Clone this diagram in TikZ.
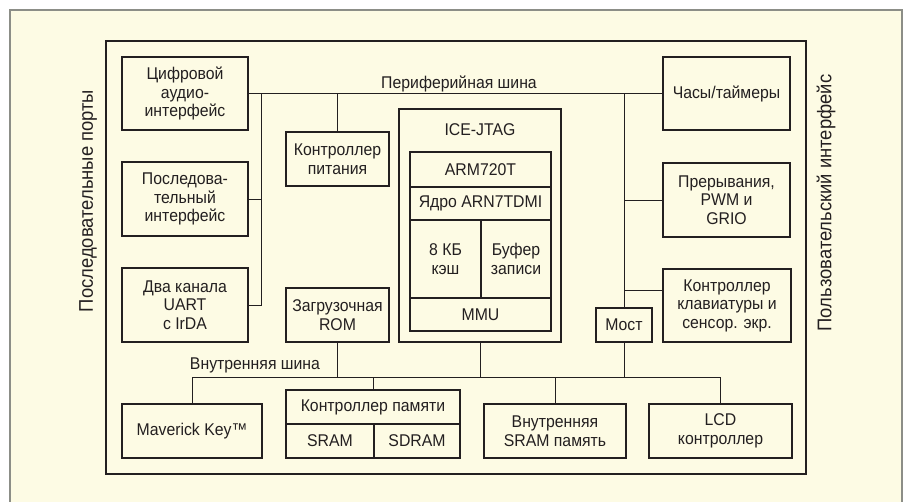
\documentclass[tikz,border=0pt]{standalone}
\usepackage{fontspec}
\setmainfont{Liberation Sans}[FakeStretch=0.93]
\usetikzlibrary{positioning}
\definecolor{paper}{RGB}{253,251,228}
\definecolor{ink}{RGB}{35,31,32}
\definecolor{edge}{RGB}{140,142,135}

\tikzset{
  blk/.style={draw=ink, line width=1.1pt, rectangle, inner sep=0pt, align=center, text=ink},
  bus/.style={draw=ink, line width=0.9pt},
  lbl/.style={text=ink, inner sep=0pt},
  side/.style={lbl, rotate=90, font=\fontsize{19.8}{22}\selectfont}
}

\begin{document}
\begin{tikzpicture}[x=1pt,y=-1pt,font=\fontsize{17}{18.5}\selectfont]
    \useasboundingbox (0,0) rectangle (905,502);
    \fill[white] (0,0) rectangle (905,502);
    \fill[paper] (10,10) rectangle (902,502);
    \draw[edge, line width=1.5pt] (10,505) -- (10,10) -- (902,10) -- (902,505);
    \draw[ink, line width=2pt] (106,41) rectangle (806,474);

    % left column
    \node[blk, minimum width=126pt, minimum height=73pt] (audio) at (185,93.5) {Цифровой\\аудио-\\интерфейс};
    \node[blk, minimum width=126pt, minimum height=74pt] (serial) at (185,199) {Последова-\\тельный\\интерфейс};
    \node[blk, minimum width=126pt, minimum height=74pt] (uart) at (185,305) {Два канала\\UART\\c IrDA};
    \node[blk, minimum width=103pt, minimum height=54pt] (power) at (337.5,159) {Контроллер\\питания};
    \node[blk, minimum width=103pt, minimum height=54pt] (rom) at (337.5,315) {Загрузочная\\ROM};

    % core
    \node[blk, line width=1.4pt, minimum width=162pt, minimum height=233pt] (jtag) at (480,225.5) {};
    \node[lbl, anchor=base] (jtagl) at (480,136) {ICE-JTAG};
    \node[blk, minimum width=141pt, minimum height=35pt] (arm) at (480.5,169.5) {ARM720T};
    \node[blk, minimum width=141pt, minimum height=33pt] (core) at (480.5,203.5) {Ядро ARN7TDMI};
    \node[blk, minimum width=71pt, minimum height=78pt] (cache) at (445.5,259) {8 КБ\\кэш};
    \node[blk, minimum width=70pt, minimum height=78pt] (wbuf) at (516,259) {Буфер\\записи};
    \node[blk, minimum width=141pt, minimum height=33pt] (mmu) at (480.5,314.5) {MMU};

    % right column
    \node[blk, minimum width=127pt, minimum height=73pt] (clock) at (726.5,93.5) {Часы/таймеры};
    \node[blk, minimum width=127pt, minimum height=74pt] (irq) at (726.5,200) {Прерывания,\\PWM и\\GRIO};
    \node[blk, minimum width=128pt, minimum height=73pt] (keyb) at (727,305.5) {Контроллер\\клавиатуры и\\сенсор. экр.};
    \node[blk, minimum width=56pt, minimum height=34pt] (bridge) at (624,325) {Мост};

    % bottom row
    \node[blk, minimum width=140pt, minimum height=54pt] (maverick) at (192,431) {Maverick Key™};
    \node[blk, minimum width=174pt, minimum height=34pt] (memctl) at (373,407) {Контроллер памяти};
    \node[blk, minimum width=88pt, minimum height=34pt] (sram) at (330,441) {SRAM};
    \node[blk, minimum width=86pt, minimum height=34pt] (sdram) at (417,441) {SDRAM};
    \node[blk, minimum width=142pt, minimum height=54pt] (isram) at (555,431) {Внутренняя\\SRAM память};
    \node[blk, minimum width=143pt, minimum height=54pt] (lcd) at (720.5,431) {LCD\\контроллер};

    % bus labels
    \node[lbl, anchor=base] (pbusl) at (459,89) {Периферийная шина};
    \node[lbl, anchor=base] (ibusl) at (255,370) {Внутренняя шина};
    \node[side] (ports) at (88,201) {Последовательные порты};
    \node[side] (user) at (826,203) {Пользовательский интерфейс};

    \coordinate (lbus) at (261,93.5);
    \coordinate (rbus) at (624,93.5);
    \coordinate (kstub) at (663,290);
    \coordinate (ibus) at (0,377);

    % peripheral bus
    \draw[bus] (audio.east) -- (clock.west);
    \draw[bus] (lbus) |- (uart.east);
    \draw[bus] (serial.east) -- (serial.east -| lbus);
    \draw[bus] (power.north) -- (power.north |- lbus);
    \draw[bus] (rbus) -- (bridge.north);
    \draw[bus] (irq.west) -- (irq.west -| rbus);
    \draw[bus] (kstub) -- (kstub -| rbus);

    % internal bus
    \draw[bus] (maverick.north) -- (maverick.north |- ibus) -- (lcd.north |- ibus) -- (lcd.north);
    \draw[bus] (rom.south) -- (rom.south |- ibus);
    \draw[bus] (jtag.south) -- (jtag.south |- ibus);
    \draw[bus] (bridge.south) -- (bridge.south |- ibus);
    \draw[bus] (memctl.north) -- (memctl.north |- ibus);
    \draw[bus] (isram.north) -- (isram.north |- ibus);
\end{tikzpicture}
\end{document}
